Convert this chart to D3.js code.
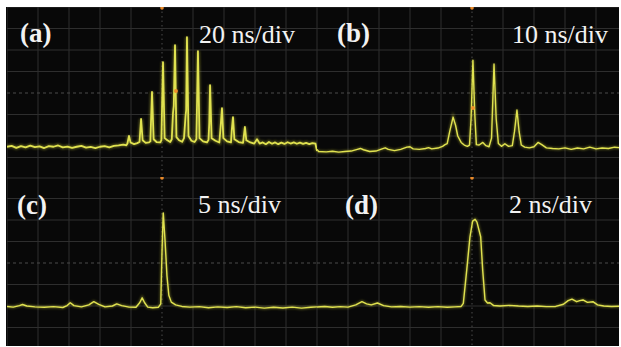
<!DOCTYPE html>
<html>
<head>
<meta charset="utf-8">
<script src="https://cdn.jsdelivr.net/npm/d3@7/dist/d3.min.js"></script>
<style>
  html, body { margin: 0; padding: 0; background: #fff; }
  svg { display: block; }
</style>
</head>
<body>
<div id="chart"></div>
<script>
// panel labels and timebase (ns/div)
const panelLabels = ['(a)', '(b)', '(c)', '(d)']
const timebases = [20, 10, 5, 2]
const timebaseLabels = ['20 ns/div', '10 ns/div', '5 ns/div', '2 ns/div']

// traces: [time (ns), amplitude (div from centre)]
const traceA = [
  [-100, -2.50], [-97, -2.46], [-94, -2.55], [-91, -2.47], [-88, -2.53], [-85, -2.45], [-82, -2.52],
  [-79, -2.48], [-76, -2.56], [-73, -2.47], [-70, -2.50], [-67, -2.44], [-64, -2.53], [-61, -2.49],
  [-58, -2.55], [-55, -2.50], [-52, -2.46], [-49, -2.54], [-46, -2.51], [-43, -2.56], [-40, -2.50],
  [-37, -2.47], [-34, -2.53], [-31, -2.46], [-28, -2.44], [-25, -2.40], [-23, -2.43],
  [-22.3, -2.35], [-21.3, -2.0], [-20.3, -2.30], [-18, -2.38], [-16, -2.33],
  [-14.5, -2.28], [-13.5, -1.21], [-12.5, -2.20], [-10.5, -2.32], [-8.5, -2.30],
  [-7.5, -2.25], [-6.45, 0.05], [-5.4, -2.15], [-3.5, -2.28], [-1.2, -2.30],
  [-0.4, -2.2], [0.65, 1.44], [1.7, -2.1], [3.5, -2.20], [5.3, -2.28],
  [6.3, -2.15], [7.1, -0.93], [7.6, -0.6], [8.4, 2.23], [9.3, -2.05], [11, -2.2], [13, -2.27],
  [14.2, -2.1], [15.2, -1.07], [15.6, -0.8], [16.1, 2.6], [17.1, -2.0], [19, -2.22], [21, -2.28],
  [22.2, -2.15], [23.2, 1.95], [24.2, -2.1], [26.5, -2.25], [29, -2.3],
  [30, -2.18], [30.5, -1.4], [31, 0.37], [32, -2.1], [34.5, -2.22], [37, -2.3],
  [37.8, -1.6], [38.7, -0.70], [39.6, -2.1], [42, -2.25], [44.5, -2.3],
  [45, -1.75], [45.8, -1.12], [46.7, -2.15], [49.5, -2.28], [52.3, -2.32],
  [53.5, -1.58], [54.4, -2.2], [57, -2.3], [59.5, -2.35],
  [61.3, -2.15], [63, -2.35], [65, -2.30], [67, -2.38], [69, -2.28], [71, -2.36], [73, -2.30],
  [75, -2.38], [77, -2.31], [79, -2.37], [81, -2.29], [83, -2.35], [85, -2.30], [87, -2.36],
  [89, -2.31], [91, -2.37], [93, -2.32], [95, -2.38], [97, -2.33], [99, -2.36], [100, -2.7]
]

const traceB = [
  [-50, -2.62], [-49.5, -2.72], [-47, -2.74], [-45, -2.71], [-43, -2.75], [-41, -2.72], [-39, -2.70],
  [-37, -2.62], [-36, -2.58], [-35, -2.64], [-33, -2.72], [-31, -2.70], [-29, -2.60], [-28, -2.55],
  [-27, -2.62], [-25, -2.68], [-23, -2.62], [-21, -2.52], [-20, -2.50], [-19, -2.60], [-17, -2.62],
  [-15, -2.58], [-14, -2.54], [-13, -2.60], [-11, -2.56], [-9.5, -2.48], [-8.7, -2.40], [-8, -2.35],
  [-7.2, -1.8], [-6.1, -1.12], [-5.3, -1.5], [-4.6, -2.0], [-3.5, -2.3], [-2.5, -2.42], [-1.5, -2.48],
  [-0.8, -2.42], [-0.3, -1.2], [0.3, 1.53], [0.9, -1.0], [1.4, -2.40], [2.3, -2.42], [3.5, -2.30],
  [4.5, -2.45], [5.5, -2.50], [6.3, -2.1], [7.1, 1.35], [7.8, -1.2], [8.5, -2.35], [9.5, -2.48],
  [10.6, -2.36], [11.8, -2.48], [13, -2.45], [13.7, -1.8], [14.5, -0.79], [15.2, -1.8], [15.9, -2.42],
  [17, -2.52], [18.5, -2.55], [20, -2.50], [21.3, -2.30], [22.5, -2.40], [24, -2.55], [26, -2.58],
  [28, -2.60], [30, -2.55], [32, -2.62], [34, -2.56], [36, -2.60], [38, -2.52], [40, -2.60],
  [42, -2.56], [44, -2.58], [46, -2.52], [48, -2.55], [50, -2.56]
]

const traceC = [
  [-25, -2.02], [-24, -2.05], [-23, -1.98], [-22.5, -1.93], [-21.8, -2.0], [-20.5, -2.04], [-19, -2.06],
  [-17.5, -2.03], [-16, -2.07], [-15.3, -1.98], [-14.8, -1.85], [-14.2, -1.98], [-13, -2.04],
  [-11.8, -1.95], [-11, -1.80], [-10.2, -1.92], [-9.2, -2.04], [-8, -2.0], [-7.3, -1.90], [-6.5, -1.98],
  [-5.3, -2.05], [-4.2, -2.06], [-3.6, -1.85], [-3.2, -1.62], [-2.8, -1.85], [-2.3, -2.05], [-1.5, -2.08],
  [-0.6, -2.06], [-0.2, -1.9], [0.0, 0.5], [0.2, 2.33], [0.5, 1.0], [0.8, -0.6], [1.1, -1.5], [1.5, -1.82],
  [2.2, -1.95], [3.2, -2.02], [4.5, -2.05], [6, -2.03], [7.5, -2.08], [9, -2.04], [10.5, -2.07],
  [12, -2.03], [13.5, -2.08], [15, -2.05], [16.5, -2.1], [18, -2.06], [19.5, -2.09], [21, -2.05],
  [22.5, -2.1], [24, -2.06], [25, -2.04]
]

const traceD = [
  [-10, -2.05], [-9.5, -2.02], [-9, -2.06], [-8.5, -2.03], [-8, -2.05], [-7.5, -1.95], [-7.1, -1.80],
  [-6.8, -1.90], [-6.5, -1.95], [-6.1, -1.86], [-5.7, -1.98], [-5.2, -2.04], [-4.6, -2.02], [-4, -2.05],
  [-3.4, -2.03], [-2.8, -2.06], [-2.2, -2.03], [-1.6, -2.06], [-1.1, -2.04], [-0.7, -2.02], [-0.56, -1.88],
  [-0.34, -0.33], [-0.13, 1.22], [0.04, 1.95], [0.2, 2.03], [0.32, 1.9], [0.56, 1.22], [0.69, -0.33],
  [0.84, -1.72], [1.0, -1.86], [1.16, -1.85], [1.4, -1.98], [1.8, -2.0], [2.4, -1.97], [3, -2.0],
  [3.6, -2.02], [4.2, -2.0], [4.8, -2.03], [5.4, -2.02], [5.9, -1.92], [6.2, -1.75], [6.45, -1.68],
  [6.75, -1.80], [6.95, -1.75], [7.16, -1.72], [7.45, -1.83], [7.8, -1.80], [8.1, -1.95], [8.5, -2.0],
  [9, -2.02], [9.5, -2.01], [10, -2.02]
]

// trigger-level markers [time, amplitude] (null = none)
const levelMarkers = [[9.0, 0.09], [0.3, -0.7], null, null]

const traces = [traceA, traceB, traceC, traceD]

const width = 621
const height = 347
const screen = { left: 6, top: 7, right: 619, bottom: 346 }
const panelW = 310
const panelH = 172
const origins = [[7, 7], [317, 7], [7, 177], [317, 177]]

const svg = d3.select('#chart').append('svg')
  .attr('width', width)
  .attr('height', height)

svg.append('rect')
  .attr('x', screen.left)
  .attr('y', screen.top)
  .attr('width', screen.right - screen.left)
  .attr('height', screen.bottom - screen.top)
  .attr('fill', '#080808')

const defs = svg.append('defs')
const glow = defs.append('filter').attr('id', 'glow')
glow.append('feGaussianBlur').attr('stdDeviation', 0.8)

traces.forEach((trace, i) => {
  const [ox, oy] = origins[i]
  const tb = timebases[i]

  const x = d3.scaleLinear().domain([-5 * tb, 5 * tb]).range([ox, ox + panelW])
  const y = d3.scaleLinear().domain([-4, 4]).range([oy + panelH, oy])

  // clip to panel, but also to the visible screen
  const cx0 = Math.max(ox, screen.left)
  const cy0 = Math.max(oy, screen.top)
  const cx1 = Math.min(ox + panelW, screen.right)
  const cy1 = Math.min(oy + panelH, screen.bottom)
  defs.append('clipPath').attr('id', `clip${i}`)
    .append('rect')
    .attr('x', cx0).attr('y', cy0)
    .attr('width', cx1 - cx0).attr('height', cy1 - cy0)

  const g = svg.append('g').attr('clip-path', `url(#clip${i})`)

  // grid
  const xTicks = d3.range(-5, 6).map(d => d * tb)
  const yTicks = d3.range(-4, 5)

  g.selectAll('.vgrid')
    .data(xTicks.filter(d => d !== 0))
    .enter().append('line')
    .attr('x1', d => x(d)).attr('x2', d => x(d))
    .attr('y1', oy).attr('y2', oy + panelH)
    .attr('stroke', '#2e2e2e')
    .attr('stroke-width', 1)

  g.selectAll('.hgrid')
    .data(yTicks.filter(d => d !== 0))
    .enter().append('line')
    .attr('x1', ox).attr('x2', ox + panelW)
    .attr('y1', d => y(d)).attr('y2', d => y(d))
    .attr('stroke', '#2e2e2e')
    .attr('stroke-width', 1)

  // centre graticule lines
  g.append('line')
    .attr('x1', x(0)).attr('x2', x(0))
    .attr('y1', oy).attr('y2', oy + panelH)
    .attr('stroke', '#4a4a4a')
    .attr('stroke-dasharray', '1.5,3')
  g.append('line')
    .attr('x1', ox).attr('x2', ox + panelW)
    .attr('y1', y(0)).attr('y2', y(0))
    .attr('stroke', '#4a4a4a')
    .attr('stroke-dasharray', '3,3')

  // trace
  const line = d3.line()
    .x(d => x(d[0]))
    .y(d => y(d[1]))

  g.append('path')
    .datum(trace)
    .attr('d', line)
    .attr('fill', 'none')
    .attr('stroke', '#d0d23a')
    .attr('stroke-width', i === 0 ? 4 : 3)
    .attr('stroke-opacity', 0.35)
    .attr('filter', 'url(#glow)')

  g.append('path')
    .datum(trace)
    .attr('d', line)
    .attr('fill', 'none')
    .attr('stroke', '#e0e250')
    .attr('stroke-width', i === 0 ? 1.8 : 1.4)
    .attr('stroke-linejoin', 'round')

  // trigger position marker on top edge
  g.append('circle')
    .attr('cx', x(0)).attr('cy', oy + 1)
    .attr('r', 1.8)
    .attr('fill', '#e88a2a')

  if (levelMarkers[i]) {
    g.append('circle')
      .attr('cx', x(levelMarkers[i][0]))
      .attr('cy', y(levelMarkers[i][1]))
      .attr('r', 2)
      .attr('fill', '#f0902a')
  }
})

// labels
const labelPos = [[20, 42], [337, 42], [17, 214], [345, 214]]
const tbPos = [[199, 43], [512, 43], [198, 213], [509, 213]]

svg.selectAll('.plabel')
  .data(panelLabels)
  .enter().append('text')
  .attr('x', (d, i) => labelPos[i][0])
  .attr('y', (d, i) => labelPos[i][1])
  .attr('fill', '#f2f2f2')
  .attr('font-family', '"Liberation Serif", "Times New Roman", serif')
  .attr('font-weight', 'bold')
  .attr('font-size', 27)
  .text(d => d)

svg.selectAll('.tblabel')
  .data(timebaseLabels)
  .enter().append('text')
  .attr('x', (d, i) => tbPos[i][0])
  .attr('y', (d, i) => tbPos[i][1])
  .attr('fill', '#f2f2f2')
  .attr('font-family', '"Liberation Serif", "Times New Roman", serif')
  .attr('font-size', 26)
  .text(d => d)
</script>
</body>
</html>
